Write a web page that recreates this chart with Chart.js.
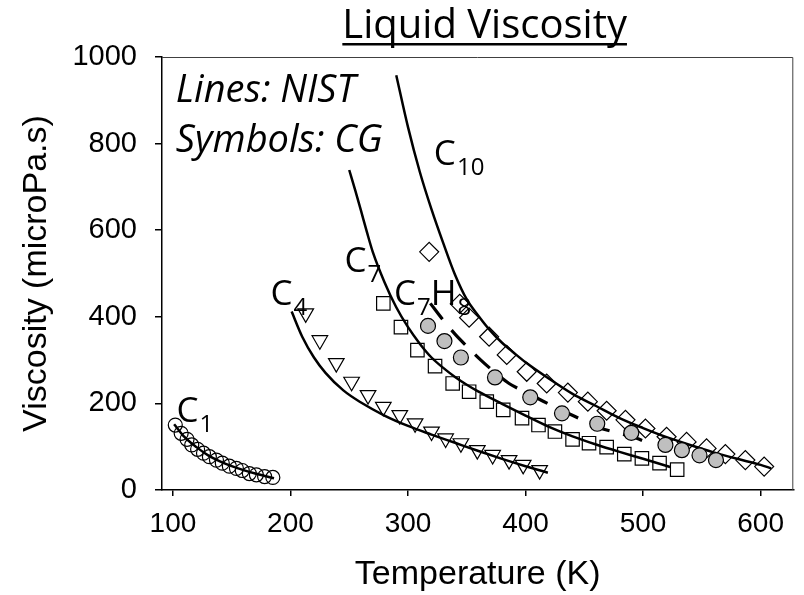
<!DOCTYPE html>
<html>
<head>
<meta charset="utf-8">
<script src="https://cdn.jsdelivr.net/npm/chart.js@4.4.1/dist/chart.umd.min.js"></script>
<style>
  body { margin: 0; background: #fff; }
  #wrap { width: 804px; height: 595px; }
</style>
</head>
<body>
<div id="wrap"><canvas id="viscChart" width="804" height="595"></canvas></div>
<script>
// x axis ticks (K) and y axis ticks
const xTicks = [100, 200, 300, 400, 500, 600];
const yTicks = [0, 200, 400, 600, 800, 1000];

// C1 (methane)
const c1T = [102, 107, 112, 116, 121, 126, 131, 137, 142, 148, 154, 159, 165, 171, 178, 185];
const c1V = [150, 131, 117, 104, 94, 85, 77, 69, 62, 55, 50, 45, 38, 35, 31, 29];
const c1LineT = [101, 110, 120, 130, 140, 150, 160, 170, 180, 186];
const c1LineV = [152, 122, 99, 80, 66, 55, 46, 38, 31, 27];

// C4 (butane)
const c4T = [213, 225, 239, 252, 266, 279, 293, 306, 320, 332, 345, 359, 372, 386, 398, 412];
const c4V = [408, 346, 293, 250, 219, 192, 173, 154, 135, 119, 108, 92, 81, 69, 58, 46];
const c4LineT = [201, 210, 220, 230, 245, 260, 280, 300, 320, 340, 360, 380, 400, 419];
const c4LineV = [412, 354, 306, 270, 230, 202, 172, 148, 128, 109, 90, 72, 55, 40];

// C7 (heptane)
const c7T = [279, 294, 308, 323, 338, 352, 367, 381, 397, 411, 425, 440, 454, 469, 484, 499, 514, 529];
const c7V = [431, 376, 323, 286, 246, 227, 204, 185, 166, 150, 135, 117, 108, 99, 83, 73, 62, 47];
const c7LineT = [250, 255, 260, 265, 270, 280, 290, 300, 310, 320, 330, 340, 350, 360, 380, 400, 420, 440, 460, 480, 500, 523];
const c7LineV = [739, 693, 645, 596, 550, 480, 422, 376, 338, 306, 282, 261, 243, 227, 199, 172, 146, 124, 105, 88, 72, 53];

// C7H8 (toluene)
const tolT = [317, 331, 345, 374, 404, 431, 461, 490, 519, 533, 548, 562];
const tolV = [379, 344, 306, 260, 214, 177, 153, 132, 104, 92, 80, 69];
const tolLineT = [319, 330, 340, 350, 362, 375, 386, 400, 415, 430, 445, 460, 480, 494, 504];
const tolLineV = [431, 392, 360, 332, 300, 269, 246, 226, 205, 185, 166, 146, 131, 120, 109];

// C10 (decane)
const c10T = [318, 344, 352, 369, 384, 401, 418, 436, 453, 469, 485, 502, 520, 537, 554, 570, 587, 603];
const c10V = [550, 430, 398, 354, 312, 273, 246, 225, 204, 183, 162, 142, 123, 111, 96, 83, 69, 54];
const c10LineT = [290, 300, 310, 320, 330, 340, 350, 360, 370, 380, 390, 400, 420, 440, 460, 480, 500, 520, 540, 560, 580, 600, 609];
const c10LineV = [958, 838, 735, 648, 570, 497, 440, 402, 368, 340, 317, 295, 257, 222, 194, 166, 143, 122, 104, 87, 72, 58, 50];

// label text: [parts, T, V]  parts: [text, isSubscript]
const speciesLabels = [
    [[['C', 0], ['1', 1]], 103, 157],
    [[['C', 0], ['4', 1]], 183, 427],
    [[['C', 0], ['7', 1]], 246, 503],
    [[['C', 0], ['7', 1], ['H', 0], ['8', 1]], 288, 427],
    [[['C', 0], ['10', 1]], 322, 751]
];

var pts = function (xs, ys) {
    return xs.map((v, i) => ({ x: v, y: ys[i] }));
};

var markerSet = function (xs, ys, style, radius, fill, rotation) {
    return {
        data: pts(xs, ys),
        showLine: false,
        pointStyle: style,
        pointRadius: radius,
        pointRotation: rotation || 0,
        pointBackgroundColor: fill,
        pointBorderColor: '#000',
        pointBorderWidth: 1.2
    };
};

var lineSet = function (xs, ys, dash) {
    return {
        data: pts(xs, ys),
        showLine: true,
        pointRadius: 0,
        borderColor: '#000',
        borderWidth: dash ? 3.2 : 2.5,
        borderDash: dash || [],
        cubicInterpolationMode: 'monotone',
        fill: false
    };
};

const overlay = {
    id: 'overlay',
    afterDraw(chart) {
        const { ctx, chartArea: a, scales: { x, y } } = chart;
        ctx.save();
        // frame top and right
        ctx.strokeStyle = '#404040';
        ctx.lineWidth = 1;
        ctx.beginPath();
        ctx.moveTo(a.left, a.top + 0.5);
        ctx.lineTo(a.right - 0.5, a.top + 0.5);
        ctx.lineTo(a.right - 0.5, a.bottom);
        ctx.stroke();

        // title, underlined
        ctx.fillStyle = '#000';
        ctx.font = '40px "Open Sans"';
        ctx.textAlign = 'center';
        ctx.textBaseline = 'alphabetic';
        const title = 'Liquid Viscosity';
        const tx = (a.left + a.right) / 2 + 7;
        ctx.fillText(title, tx, 38);
        const w = ctx.measureText(title).width;
        ctx.fillRect(tx - w / 2, 43, w, 2.5);

        // notes
        ctx.textAlign = 'left';
        ctx.font = 'italic 38px "Open Sans"';
        ctx.fillText('Lines: NIST', x.getPixelForValue(102.5), y.getPixelForValue(896));
        ctx.fillText('Symbols: CG', x.getPixelForValue(102.5), y.getPixelForValue(781));

        // species labels
        speciesLabels.forEach(function (lab) {
            let px = x.getPixelForValue(lab[1]);
            const py = y.getPixelForValue(lab[2]);
            lab[0].forEach(function (part) {
                ctx.font = part[1] ? '24px "Open Sans"' : '35px "Open Sans"';
                ctx.fillText(part[0], px, part[1] ? py + 10 : py);
                px += ctx.measureText(part[0]).width + (part[1] ? 0 : 1);
            });
        });
        ctx.restore();
    }
};

const ctx = document.getElementById('viscChart').getContext('2d');
const viscChart = new Chart(ctx, {
    type: 'scatter',
    data: {
        datasets: [
            markerSet(c1T, c1V, 'circle', 7, 'rgba(0,0,0,0)'),
            markerSet(c4T, c4V, 'triangle', 9, 'rgba(0,0,0,0)', 180),
            markerSet(c7T, c7V, 'rect', 9.5, 'rgba(0,0,0,0)'),
            markerSet(tolT, tolV, 'circle', 7.5, '#bfbfbf'),
            markerSet(c10T, c10V, 'rectRot', 9.5, 'rgba(0,0,0,0)'),
            lineSet(c1LineT, c1LineV),
            lineSet(c4LineT, c4LineV),
            lineSet(c7LineT, c7LineV),
            lineSet(tolLineT, tolLineV, [20, 14]),
            lineSet(c10LineT, c10LineV)
        ]
    },
    options: {
        responsive: false,
        animation: false,
        layout: { padding: { top: 57, right: 5, left: 0, bottom: 0 } },
        plugins: {
            legend: { display: false },
            tooltip: { enabled: false },
            title: { display: false }
        },
        scales: {
            x: {
                type: 'linear',
                min: 90.7,
                max: 627.8,
                afterBuildTicks: function (s) { s.ticks = xTicks.map(v => ({ value: v })); },
                afterFit: function (s) { s.height = 105; },
                ticks: {
                    autoSkip: false,
                    padding: 11,
                    color: '#000',
                    callback: v => String(v),
                    font: { family: '"Liberation Sans", Arial, sans-serif', size: 28 }
                },
                grid: { drawOnChartArea: false, drawTicks: true, tickLength: 6, color: '#000', lineWidth: 1.5 },
                border: { color: '#000', width: 1.5 },
                title: {
                    display: true,
                    text: 'Temperature (K)',
                    color: '#000',
                    padding: { top: 0, bottom: 0 },
                    font: { family: '"Liberation Sans", Arial, sans-serif', size: 34 }
                }
            },
            y: {
                min: 0,
                max: 1000,
                afterBuildTicks: function (s) { s.ticks = yTicks.map(v => ({ value: v })); },
                afterFit: function (s) { s.width = 162; },
                ticks: {
                    padding: 18,
                    color: '#000',
                    callback: v => String(v),
                    font: { family: '"Liberation Sans", Arial, sans-serif', size: 29 }
                },
                grid: { drawOnChartArea: false, drawTicks: true, tickLength: 7, color: '#000', lineWidth: 1.5 },
                border: { color: '#000', width: 1.5 },
                title: {
                    display: true,
                    text: 'Viscosity (microPa.s)',
                    color: '#000',
                    padding: { top: 16, bottom: 0 },
                    font: { family: '"Liberation Sans", Arial, sans-serif', size: 34 }
                }
            }
        }
    },
    plugins: [overlay]
});
</script>
</body>
</html>
